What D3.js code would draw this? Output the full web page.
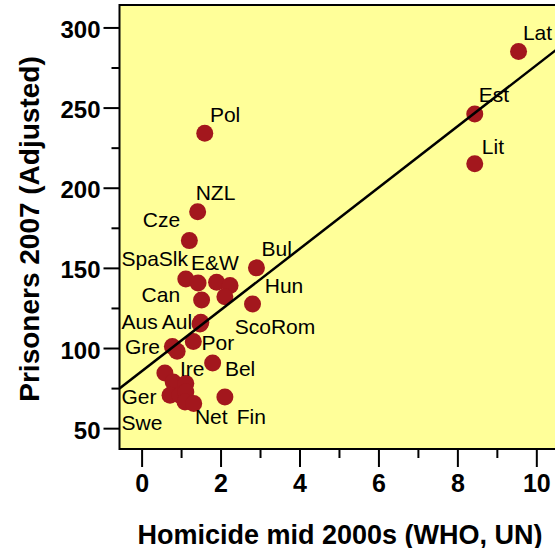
<!DOCTYPE html>
<html lang="en">
<head>
<meta charset="UTF-8">
<title>Prisoners vs homicide</title>
<style>
  body { margin: 0; background: #fff; }
  svg { display: block; }
  .frame { fill: none; stroke: #000; stroke-width: 2px; }
  .axis path { stroke: #000; stroke-width: 2px; }
  .axis line { stroke: #000; stroke-width: 2px; }
  .axis text { font-family: "Liberation Sans", Arial, sans-serif; font-weight: bold; fill: #000; }
  .lab { font: 21px "Liberation Sans", Arial, sans-serif; fill: #000; }
  .title { font: bold 27px "Liberation Sans", Arial, sans-serif; fill: #000; }
</style>
</head>
<body>
<script src="https://cdnjs.cloudflare.com/ajax/libs/d3/7.8.5/d3.min.js"></script>
<script>

// data
var countries = ["Lat", "Est", "Lit", "Pol", "NZL", "Cze", "Bul", "Spa", "Slk", "E&W",
                 "Sco", "Hun", "Can", "Rom", "Aus", "Aul", "Por", "Gre", "Ita", "Bel",
                 "Ire", "Fin", "Fra", "NI", "Ger", "Swe", "Den", "Nor", "Net"];
var homicide  = [9.55, 8.44, 8.44, 1.60, 1.42, 1.21, 2.91, 1.12, 1.43, 1.90,
                 2.24, 2.11, 1.52, 2.81, 1.50, 1.48, 1.31, 0.78, 0.90, 1.80,
                 0.59, 2.11, 0.80, 1.12, 0.72, 0.97, 1.12, 1.10, 1.32];
var prisoners = [285, 246, 215, 234, 185, 167, 150, 143, 140.5, 141,
                 139, 132, 130, 127.5, 116, 115, 104, 101, 98, 90.7,
                 84.4, 69.5, 78.8, 77.8, 70.5, 70.5, 72.6, 66.4, 65.4];

// fitted line
var fitIntercept = 85.4,
    fitSlope = 19.1;

// text labels (left edge / baseline, in data units)
var labelText = ["Lat", "Est", "Lit", "Pol", "NZL", "Cze", "SpaSlk", "E&W", "Bul", "Can",
                 "Hun", "Aus", "Aul", "ScoRom", "Gre", "Por", "Ire", "Bel", "Ger", "Swe",
                 "Net", "Fin"];
var labelX = [9.66, 8.54, 8.62, 1.73, 1.37, 0.03, -0.51, 1.25, 3.04, 0.00,
              3.12, -0.51, 0.51, 2.36, -0.42, 1.52, 0.97, 2.11, -0.51, -0.51,
              1.35, 2.41];
var labelY = [292, 253.6, 221, 240.7, 192.6, 175.3, 150.9, 148.4, 157.7, 128.6,
              134.2, 112.1, 112.1, 109, 96.1, 99, 82.4, 82.4, 64.9, 48.8,
              52.5, 52.5];

var xMajor = [0, 2, 4, 6, 8, 10],
    xMinor = [1, 3, 5, 7, 9],
    yMajor = [50, 100, 150, 200, 250, 300],
    yMinor = [75, 125, 175, 225, 275];

var W = 555, H = 548;
var plotLeft = 119.5, plotTop = 5, plotBottom = 449, plotRight = 560;

var svg = d3.select("body").append("svg")
  .attr("width", W)
  .attr("height", H);

var x = d3.scaleLinear().domain([-0.56, 10.6]).range([plotLeft, plotRight]);
var y = d3.scaleLinear().domain([37, 314]).range([plotBottom, plotTop]);

svg.append("clipPath").attr("id", "plot")
  .append("rect")
    .attr("x", plotLeft).attr("y", plotTop)
    .attr("width", plotRight - plotLeft).attr("height", plotBottom - plotTop);

svg.append("rect")
  .attr("x", plotLeft).attr("y", plotTop)
  .attr("width", plotRight - plotLeft).attr("height", plotBottom - plotTop)
  .attr("fill", "#ffff99");

var pts = d3.range(countries.length).map(function(i) {
  return { name: countries[i], hx: homicide[i], py: prisoners[i] };
});

var plot = svg.append("g").attr("clip-path", "url(#plot)");

plot.selectAll("circle")
  .data(pts)
  .enter().append("circle")
    .attr("cx", function(d) { return x(d.hx); })
    .attr("cy", function(d) { return y(d.py); })
    .attr("r", 8.5)
    .attr("fill", "#a3171d");

plot.selectAll("text.lab")
  .data(labelText)
  .enter().append("text")
    .attr("class", "lab")
    .attr("x", function(d, i) { return x(labelX[i]); })
    .attr("y", function(d, i) { return y(labelY[i]); })
    .text(function(d) { return d; });

var xEnds = x.domain();
plot.append("line")
  .attr("x1", x(xEnds[0])).attr("y1", y(fitIntercept + fitSlope * xEnds[0]))
  .attr("x2", x(xEnds[1])).attr("y2", y(fitIntercept + fitSlope * xEnds[1]))
  .attr("stroke", "#000")
  .attr("stroke-width", 2.5);

svg.append("rect")
  .attr("class", "frame")
  .attr("x", plotLeft).attr("y", plotTop)
  .attr("width", plotRight - plotLeft).attr("height", plotBottom - plotTop);

// x axis
var gx = svg.append("g").attr("class", "axis")
  .attr("transform", "translate(0," + plotBottom + ")")
  .call(d3.axisBottom(x).tickValues(xMajor).tickSize(18).tickSizeOuter(0));
gx.select(".domain").remove();
gx.selectAll("text")
  .attr("y", 43).attr("dy", 0)
  .style("font-size", "25px");

var gx2 = svg.append("g").attr("class", "axis")
  .attr("transform", "translate(0," + plotBottom + ")")
  .call(d3.axisBottom(x).tickValues(xMinor).tickSize(9).tickFormat(""));
gx2.select(".domain").remove();

// y axis
var gy = svg.append("g").attr("class", "axis")
  .attr("transform", "translate(" + plotLeft + ",0)")
  .call(d3.axisLeft(y).tickValues(yMajor).tickSize(16).tickSizeOuter(0));
gy.select(".domain").remove();
gy.selectAll("text")
  .attr("x", -19).attr("dy", "0.42em")
  .style("font-size", "24px");

var gy2 = svg.append("g").attr("class", "axis")
  .attr("transform", "translate(" + plotLeft + ",0)")
  .call(d3.axisLeft(y).tickValues(yMinor).tickSize(8).tickFormat(""));
gy2.select(".domain").remove();

// titles
svg.append("text")
  .attr("class", "title")
  .attr("text-anchor", "middle")
  .attr("x", 340).attr("y", 544)
  .text("Homicide mid 2000s (WHO, UN)");

svg.append("text")
  .attr("class", "title")
  .attr("text-anchor", "middle")
  .style("font-size", "28px")
  .attr("transform", "translate(39,229) rotate(-90)")
  .text("Prisoners 2007 (Adjusted)");

</script>
</body>
</html>
